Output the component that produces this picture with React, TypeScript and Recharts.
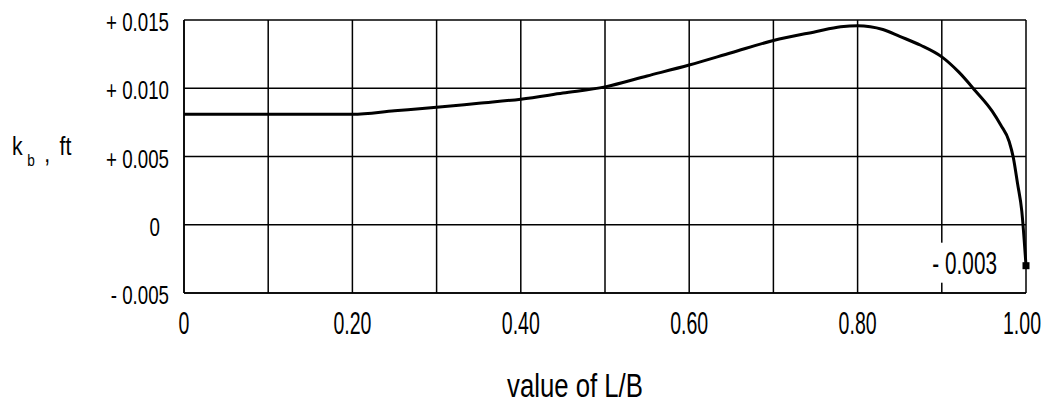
import { LineChart, Line, XAxis, YAxis, CartesianGrid } from 'recharts'

const ratioLB = [0, 0.1, 0.2, 0.25, 0.3, 0.35, 0.4, 0.45, 0.5, 0.55, 0.6, 0.65, 0.7, 0.75, 0.78, 0.8, 0.83, 0.85, 0.875, 0.9, 0.92, 0.94, 0.96, 0.97, 0.98, 0.985, 0.99, 0.995, 1.0]
const kbValues = [0.0081, 0.0081, 0.0081, 0.00835, 0.0086, 0.0089, 0.0092, 0.00965, 0.0101, 0.0109, 0.0117, 0.0126, 0.0135, 0.01414, 0.0145, 0.01458, 0.0143, 0.0138, 0.01315, 0.0123, 0.0112, 0.0098, 0.0083, 0.0073, 0.0061, 0.0049, 0.003, 0.001, -0.003]

const xTicks = [0, 0.1, 0.2, 0.3, 0.4, 0.5, 0.6, 0.7, 0.8, 0.9, 1.0]
const xTickLabels = ['0', '', '0.20', '', '0.40', '', '0.60', '', '0.80', '', '1.00']
const yTicks = [-0.005, 0, 0.005, 0.01, 0.015]
const yTickLabels = ['- 0.005', '0', '+ 0.005', '+ 0.010', '+ 0.015']
const endLabel = '- 0.003'

const data = ratioLB.map((lb, i) => ({ lb, kb: kbValues[i] }))

const FONT = "'Liberation Sans', Arial, sans-serif"

// condensed look: squeeze the text horizontally around its anchor
const Squeezed = ({ x, y, sx, size, anchor, children }: any) => (
  <g transform={`translate(${x},${y}) scale(${sx},1)`}>
    <text textAnchor={anchor} fontSize={size} fontFamily={FONT} fill="#000">
      {children}
    </text>
  </g>
)

const XTick = ({ x, y, index }: any) => {
  const label = xTickLabels[index]
  if (!label) return null
  const shift = index === xTickLabels.length - 1 ? -4 : 0
  return <Squeezed x={x + shift} y={y + 41} sx={0.63} size={31} anchor="middle">{label}</Squeezed>
}

const YTick = ({ x, y, index }: any) => (
  <Squeezed x={index === 1 ? x - 9 : x} y={y + 11} sx={0.72} size={26} anchor="end">
    {yTickLabels[index]}
  </Squeezed>
)

const EndDot = ({ cx, cy, index }: any) => {
  if (index !== data.length - 1) return null
  return (
    <g>
      <rect x={cx - 101} y={cy - 23} width={78} height={40} fill="#fff" />
      <Squeezed x={cx - 29} y={cy + 8} sx={0.67} size={31} anchor="end">{endLabel}</Squeezed>
      <rect x={cx - 3.5} y={cy - 3.5} width={7} height={7} fill="#000" />
    </g>
  )
}

const XTitle = ({ viewBox }: any) => (
  <Squeezed x={viewBox.x + viewBox.width / 2 - 30} y={viewBox.y + 104} sx={0.78} size={33} anchor="middle">
    value of L/B
  </Squeezed>
)

const YTitle = ({ viewBox }: any) => {
  const base = viewBox.y + viewBox.height / 2 - 2
  return (
    <g transform={`translate(12,${base}) scale(0.85,1)`}>
      <text fontSize={25} fontFamily={FONT} fill="#000">
        <tspan x={0} y={0}>k</tspan>
        <tspan x={18} y={11} fontSize={16}>b</tspan>
        <tspan x={38} y={7}>,</tspan>
        <tspan x={56} y={0}>ft</tspan>
      </text>
    </g>
  )
}

export default function App() {
  return (
    <div style={{ position: 'absolute', left: 0, top: 0, background: '#fff' }}>
      <LineChart width={1042} height={406} data={data} margin={{ top: 20, right: 16, bottom: 0, left: 0 }}>
        <CartesianGrid stroke="#000" strokeWidth={1.5} />
        <XAxis
          dataKey="lb"
          type="number"
          domain={[0, 1]}
          ticks={xTicks}
          interval={0}
          height={113}
          tickSize={0}
          tickMargin={0}
          tickLine={false}
          axisLine={{ stroke: '#000', strokeWidth: 1.5 }}
          tick={<XTick />}
          label={{ content: <XTitle /> }}
        />
        <YAxis
          type="number"
          domain={[-0.005, 0.015]}
          ticks={yTicks}
          interval={0}
          width={184}
          tickSize={0}
          tickMargin={15}
          tickLine={false}
          axisLine={{ stroke: '#000', strokeWidth: 1.5 }}
          tick={<YTick />}
          label={{ content: <YTitle /> }}
        />
        <Line
          type="monotone"
          dataKey="kb"
          stroke="#000"
          strokeWidth={3}
          dot={<EndDot />}
          activeDot={false}
          isAnimationActive={false}
        />
      </LineChart>
    </div>
  )
}
